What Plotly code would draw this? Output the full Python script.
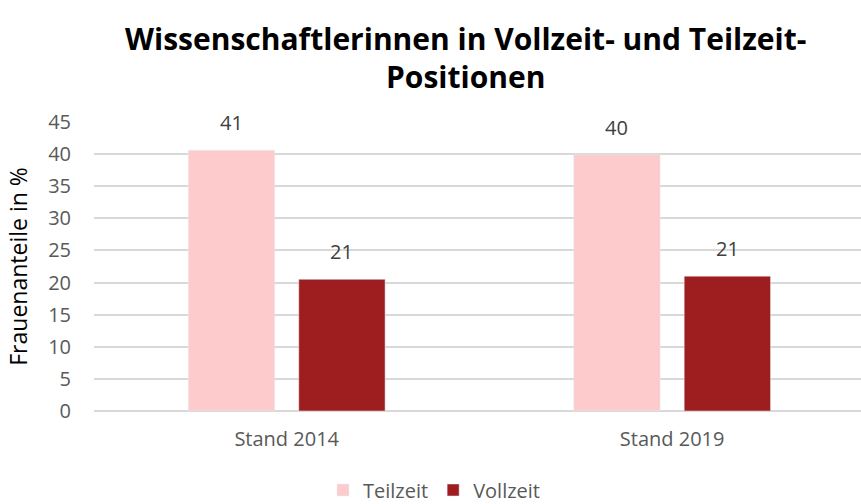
import plotly.graph_objects as go

categories = ["Stand 2014", "Stand 2019"]
teilzeit = [40.6, 39.9]
vollzeit = [20.5, 21.0]
teilzeit_labels = ["41", "40"]
vollzeit_labels = ["21", "21"]
y_ticks = [0, 5, 10, 15, 20, 25, 30, 35, 40, 45]
title_lines = ["Wissenschaftlerinnen in Vollzeit- und Teilzeit-", "Positionen"]

BAR_W = 0.224
GAP = 0.0625
C_TEIL = "#FDCBCB"
C_VOLL = "#9E1E20"
FONT = "Open Sans"
W, H = 861, 504
ML, MR, MT, MB = 94, 0, 122, 93
X_RANGE = [-0.5, 1.49]

fig = go.Figure()
fig.add_trace(go.Bar(name="Teilzeit", x=categories, y=teilzeit, marker_color=C_TEIL,
                     width=BAR_W, offset=-(GAP / 2 + BAR_W), hoverinfo="skip"))
fig.add_trace(go.Bar(name="Vollzeit", x=categories, y=vollzeit, marker_color=C_VOLL,
                     width=BAR_W, offset=GAP / 2, hoverinfo="skip"))

annotations = []
cat_px = (W - ML - MR) / (X_RANGE[1] - X_RANGE[0])
shift = (GAP / 2 + BAR_W / 2) * cat_px
for c, v, t in zip(categories, teilzeit, teilzeit_labels):
    annotations.append(dict(x=c, y=v, text=t, xref="x", yref="y", showarrow=False,
                            xshift=-shift, yshift=12, yanchor="bottom",
                            font=dict(family=FONT, size=20, color="#404040")))
for c, v, t in zip(categories, vollzeit, vollzeit_labels):
    annotations.append(dict(x=c, y=v, text=t, xref="x", yref="y", showarrow=False,
                            xshift=shift, yshift=12, yanchor="bottom",
                            font=dict(family=FONT, size=20, color="#404040")))

title_x = (465 - ML) / (W - ML - MR)
for line, ypx in zip(title_lines, [38, 76]):
    annotations.append(dict(x=title_x, y=1, xref="paper", yref="paper", text="<b>%s</b>" % line,
                            showarrow=False, xanchor="center", yanchor="middle",
                            yshift=MT - ypx,
                            font=dict(family=FONT, size=30, color="black")))

fig.update_layout(
    width=W, height=H,
    barmode="overlay",
    paper_bgcolor="white", plot_bgcolor="white",
    margin=dict(l=ML, r=MR, t=MT, b=MB, autoexpand=False),
    font=dict(family=FONT, color="#595959"),
    xaxis=dict(type="category", showgrid=False, showline=False, zeroline=False,
               ticks="", tickfont=dict(family=FONT, size=20, color="#595959"),
               ticklabelstandoff=14, range=X_RANGE, automargin=False),
    yaxis=dict(range=[0, 45], tickvals=y_ticks, showgrid=True, gridcolor="#D9D9D9",
               gridwidth=1.5, zeroline=True, zerolinecolor="#D9D9D9", zerolinewidth=1.5,
               showline=False, ticks="", ticklabelstandoff=22, automargin=False,
               tickfont=dict(family=FONT, size=20, color="#595959"),
               title=dict(text="Frauenanteile in %", standoff=14,
                          font=dict(family=FONT, size=23, color="black"))),
    legend=dict(orientation="h", x=434 / W, xref="container", xanchor="center",
                y=(H - 490) / H, yref="container", yanchor="middle",
                font=dict(family=FONT, size=20, color="#595959"),
                itemwidth=30, tracegroupgap=0),
    annotations=annotations,
)

fig.write_html("out.html", config={"displayModeBar": False},
               post_script="document.body.style.margin='0';document.body.style.overflow='hidden';")
